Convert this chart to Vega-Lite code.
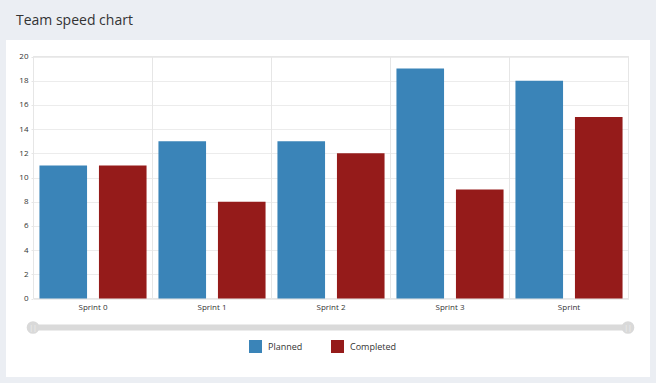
{
  "$schema": "https://vega.github.io/schema/vega-lite/v6.json",
  "width": 644,
  "height": 337,
  "autosize": {"type": "none"},
  "padding": {"left": 6, "top": 40, "right": 6, "bottom": 6},
  "background": "#ebeef3",
  "view": {"fill": "#ffffff", "stroke": null},
  "title": {
    "text": "Team speed chart",
    "anchor": "start",
    "frame": "group",
    "orient": "top",
    "offset": 15,
    "dx": 10,
    "dy": 14,
    "baseline": "alphabetic",
    "fontSize": 14,
    "font": "Open Sans",
    "fontWeight": "normal",
    "color": "#333333"
  },
  "config": {
    "font": "Open Sans",
    "axis": {"labelFont": "Open Sans", "labelColor": "#333333", "labelFontSize": 8}
  },
  "layer": [
    {
      "data": {
        "values": [
          {"sprint": "Sprint 0", "series": "Planned", "points": 11},
          {"sprint": "Sprint 0", "series": "Completed", "points": 11},
          {"sprint": "Sprint 1", "series": "Planned", "points": 13},
          {"sprint": "Sprint 1", "series": "Completed", "points": 8},
          {"sprint": "Sprint 2", "series": "Planned", "points": 13},
          {"sprint": "Sprint 2", "series": "Completed", "points": 12},
          {"sprint": "Sprint 3", "series": "Planned", "points": 19},
          {"sprint": "Sprint 3", "series": "Completed", "points": 9},
          {"sprint": "Sprint", "series": "Planned", "points": 18},
          {"sprint": "Sprint", "series": "Completed", "points": 15}
        ]
      },
      "layer": [
        {
          "mark": {"type": "rect", "fill": "transparent", "stroke": "#e6e6e6", "strokeWidth": 1},
          "encoding": {
            "x": {
              "field": "sprint",
              "type": "nominal",
              "sort": null,
              "scale": {"range": [27.5, 622.5], "paddingInner": 0, "paddingOuter": 0},
              "axis": {
                "orient": "bottom",
                "offset": -79,
                "title": null,
                "domain": false,
                "ticks": false,
                "grid": false,
                "labelAngle": 0,
                "labelPadding": 5,
                "labelFontSize": 8
              }
            },
            "y": {
              "datum": 0,
              "type": "quantitative",
              "scale": {"domain": [0, 20], "range": [258.5, 16.5], "nice": false, "zero": false},
              "axis": {
                "orient": "left",
                "offset": -27,
                "title": null,
                "values": [0, 2, 4, 6, 8, 10, 12, 14, 16, 18, 20],
                "tickCount": 11,
                "labelOverlap": false,
                "grid": true,
                "gridColor": "#ececec",
                "domain": false,
                "ticks": true,
                "tickSize": 2,
                "tickColor": "#e6e6e6",
                "labelPadding": 3,
                "labelFontSize": 8
              }
            },
            "y2": {"datum": 20}
          }
        },
        {
          "mark": {"type": "bar"},
          "encoding": {
            "x": {"field": "sprint", "type": "nominal", "sort": null},
            "xOffset": {
              "field": "series",
              "type": "nominal",
              "sort": ["Planned", "Completed"],
              "scale": {"paddingInner": 0.2, "paddingOuter": 0.1}
            },
            "y": {
              "field": "points",
              "type": "quantitative",
              "axis": {
                "orient": "left",
                "offset": -27,
                "title": null,
                "values": [0, 2, 4, 6, 8, 10, 12, 14, 16, 18, 20],
                "tickCount": 11,
                "labelOverlap": false,
                "grid": true,
                "gridColor": "#ececec",
                "domain": false,
                "ticks": true,
                "tickSize": 2,
                "tickColor": "#e6e6e6",
                "labelPadding": 3,
                "labelFontSize": 8
              }
            },
            "color": {
              "field": "series",
              "type": "nominal",
              "sort": ["Planned", "Completed"],
              "scale": {"domain": ["Planned", "Completed"], "range": ["#3a84b8", "#951b1a"]},
              "legend": {
                "orient": "none",
                "legendX": 243,
                "legendY": 300,
                "direction": "horizontal",
                "title": null,
                "symbolType": "square",
                "symbolSize": 169,
                "symbolStrokeWidth": 0,
                "symbolOpacity": 1,
                "labelFont": "Open Sans",
                "labelFontSize": 9,
                "labelColor": "#333333",
                "labelOffset": 6,
                "columnPadding": 28,
                "padding": 0
              }
            }
          }
        }
      ]
    },
    {
      "data": {"values": [{"pos": 0}, {"pos": 1}]},
      "layer": [
        {
          "mark": {"type": "rule", "color": "#dadada", "strokeWidth": 6},
          "encoding": {
            "x": {"aggregate": "min", "field": "pos", "type": "quantitative", "scale": {"domain": [0, 1], "range": [27, 622], "nice": false, "zero": false}, "axis": null},
            "x2": {"aggregate": "max", "field": "pos"},
            "y": {"datum": -2.4, "type": "quantitative"}
          }
        },
        {
          "mark": {"type": "point", "filled": true, "shape": "circle", "size": 160, "color": "#d9d9d9", "opacity": 1},
          "encoding": {
            "x": {"field": "pos", "type": "quantitative"},
            "y": {"datum": -2.4, "type": "quantitative"}
          }
        },
        {
          "mark": {"type": "text", "text": "||", "fontSize": 7, "color": "#f2f2f2", "baseline": "middle", "align": "center"},
          "encoding": {
            "x": {"field": "pos", "type": "quantitative"},
            "y": {"datum": -2.4, "type": "quantitative"}
          }
        }
      ]
    }
  ],
  "resolve": {"scale": {"x": "independent"}}
}
